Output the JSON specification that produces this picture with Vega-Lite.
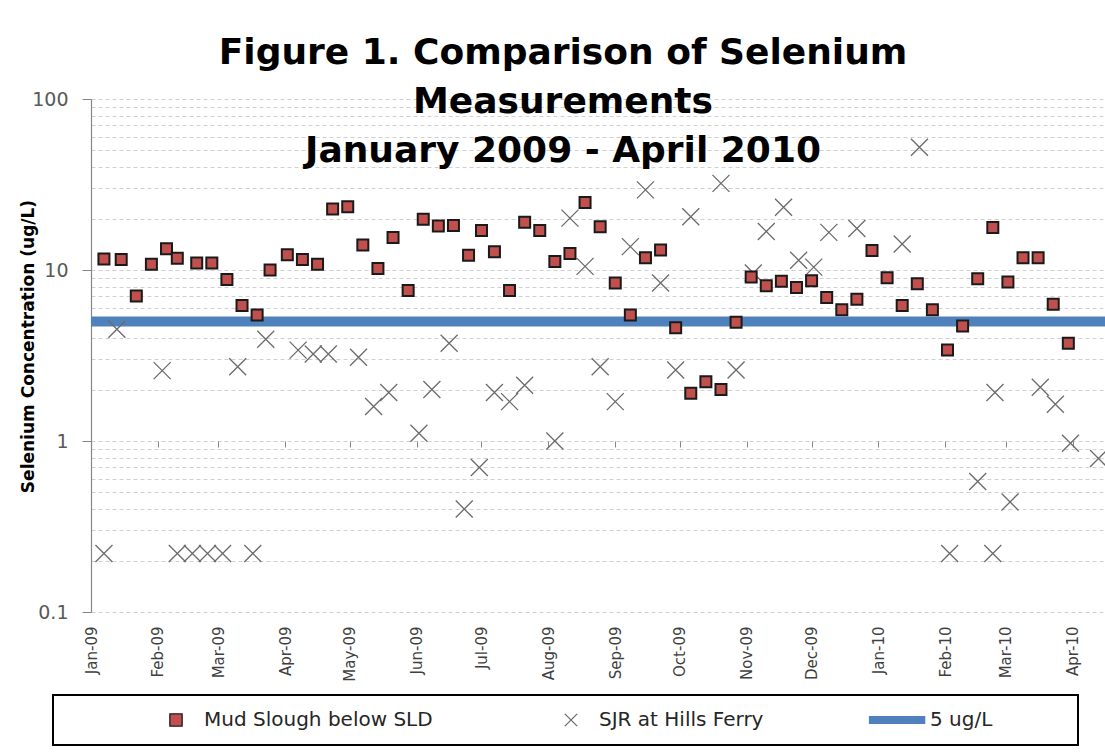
{
  "$schema": "https://vega.github.io/schema/vega-lite/v6.json",
  "width": 1014,
  "height": 513,
  "autosize": {"type": "none"},
  "padding": {"left": 91, "top": 99, "right": 0, "bottom": 141},
  "background": "white",
  "title": {
    "text": ["Figure 1. Comparison of Selenium", "Measurements", "January 2009 - April 2010"],
    "anchor": "middle",
    "frame": "group",
    "offset": -80,
    "dx": -35,
    "font": "DejaVu Sans",
    "fontSize": 36,
    "fontWeight": "bold",
    "lineHeight": 49,
    "color": "#000000"
  },
  "config": {
    "view": {"stroke": null},
    "axis": {"labelFont": "DejaVu Sans", "titleFont": "DejaVu Sans"},
    "legend": {
      "orient": "none",
      "legendX": -38,
      "legendY": 596,
      "direction": "horizontal",
      "columns": 3,
      "labelFont": "DejaVu Sans",
      "labelFontSize": 20,
      "labelColor": "#262626",
      "labelLimit": 400,
      "symbolSize": 150,
      "symbolStrokeWidth": 1.3,
      "symbolOffset": 98,
      "labelOffset": 18,
      "columnPadding": 30,
      "padding": 15,
      "titleOrient": "right",
      "titlePadding": 71,
      "titleFontSize": 20,
      "fillColor": "white",
      "strokeColor": "#000000",
      "strokeWidth": 2
    }
  },
  "datasets": {
    "sel": [
      {"date": "2009-01-07", "value": 11.6, "series": "Mud Slough below SLD"},
      {"date": "2009-01-15", "value": 11.5, "series": "Mud Slough below SLD"},
      {"date": "2009-01-22", "value": 7.05, "series": "Mud Slough below SLD"},
      {"date": "2009-01-29", "value": 10.8, "series": "Mud Slough below SLD"},
      {"date": "2009-02-05", "value": 13.3, "series": "Mud Slough below SLD"},
      {"date": "2009-02-10", "value": 11.7, "series": "Mud Slough below SLD"},
      {"date": "2009-02-19", "value": 11.0, "series": "Mud Slough below SLD"},
      {"date": "2009-02-26", "value": 11.0, "series": "Mud Slough below SLD"},
      {"date": "2009-03-05", "value": 8.8, "series": "Mud Slough below SLD"},
      {"date": "2009-03-12", "value": 6.2, "series": "Mud Slough below SLD"},
      {"date": "2009-03-19", "value": 5.45, "series": "Mud Slough below SLD"},
      {"date": "2009-03-25", "value": 10.0, "series": "Mud Slough below SLD"},
      {"date": "2009-04-02", "value": 12.3, "series": "Mud Slough below SLD"},
      {"date": "2009-04-09", "value": 11.5, "series": "Mud Slough below SLD"},
      {"date": "2009-04-16", "value": 10.8, "series": "Mud Slough below SLD"},
      {"date": "2009-04-23", "value": 22.7, "series": "Mud Slough below SLD"},
      {"date": "2009-04-30", "value": 23.4, "series": "Mud Slough below SLD"},
      {"date": "2009-05-07", "value": 14.0, "series": "Mud Slough below SLD"},
      {"date": "2009-05-14", "value": 10.2, "series": "Mud Slough below SLD"},
      {"date": "2009-05-21", "value": 15.5, "series": "Mud Slough below SLD"},
      {"date": "2009-05-28", "value": 7.6, "series": "Mud Slough below SLD"},
      {"date": "2009-06-04", "value": 19.8, "series": "Mud Slough below SLD"},
      {"date": "2009-06-11", "value": 18.1, "series": "Mud Slough below SLD"},
      {"date": "2009-06-18", "value": 18.2, "series": "Mud Slough below SLD"},
      {"date": "2009-06-25", "value": 12.2, "series": "Mud Slough below SLD"},
      {"date": "2009-07-01", "value": 17.0, "series": "Mud Slough below SLD"},
      {"date": "2009-07-07", "value": 12.8, "series": "Mud Slough below SLD"},
      {"date": "2009-07-14", "value": 7.6, "series": "Mud Slough below SLD"},
      {"date": "2009-07-21", "value": 19.0, "series": "Mud Slough below SLD"},
      {"date": "2009-07-28", "value": 17.0, "series": "Mud Slough below SLD"},
      {"date": "2009-08-04", "value": 11.2, "series": "Mud Slough below SLD"},
      {"date": "2009-08-11", "value": 12.5, "series": "Mud Slough below SLD"},
      {"date": "2009-08-18", "value": 24.8, "series": "Mud Slough below SLD"},
      {"date": "2009-08-25", "value": 17.9, "series": "Mud Slough below SLD"},
      {"date": "2009-09-01", "value": 8.4, "series": "Mud Slough below SLD"},
      {"date": "2009-09-08", "value": 5.45, "series": "Mud Slough below SLD"},
      {"date": "2009-09-15", "value": 11.8, "series": "Mud Slough below SLD"},
      {"date": "2009-09-22", "value": 13.1, "series": "Mud Slough below SLD"},
      {"date": "2009-09-29", "value": 4.6, "series": "Mud Slough below SLD"},
      {"date": "2009-10-06", "value": 1.9, "series": "Mud Slough below SLD"},
      {"date": "2009-10-13", "value": 2.22, "series": "Mud Slough below SLD"},
      {"date": "2009-10-20", "value": 2.0, "series": "Mud Slough below SLD"},
      {"date": "2009-10-27", "value": 4.95, "series": "Mud Slough below SLD"},
      {"date": "2009-11-03", "value": 9.1, "series": "Mud Slough below SLD"},
      {"date": "2009-11-10", "value": 8.1, "series": "Mud Slough below SLD"},
      {"date": "2009-11-17", "value": 8.6, "series": "Mud Slough below SLD"},
      {"date": "2009-11-24", "value": 7.9, "series": "Mud Slough below SLD"},
      {"date": "2009-12-01", "value": 8.65, "series": "Mud Slough below SLD"},
      {"date": "2009-12-08", "value": 6.9, "series": "Mud Slough below SLD"},
      {"date": "2009-12-15", "value": 5.85, "series": "Mud Slough below SLD"},
      {"date": "2009-12-22", "value": 6.75, "series": "Mud Slough below SLD"},
      {"date": "2009-12-29", "value": 13.0, "series": "Mud Slough below SLD"},
      {"date": "2010-01-05", "value": 9.0, "series": "Mud Slough below SLD"},
      {"date": "2010-01-12", "value": 6.2, "series": "Mud Slough below SLD"},
      {"date": "2010-01-19", "value": 8.3, "series": "Mud Slough below SLD"},
      {"date": "2010-01-26", "value": 5.85, "series": "Mud Slough below SLD"},
      {"date": "2010-02-02", "value": 3.4, "series": "Mud Slough below SLD"},
      {"date": "2010-02-09", "value": 4.7, "series": "Mud Slough below SLD"},
      {"date": "2010-02-16", "value": 8.9, "series": "Mud Slough below SLD"},
      {"date": "2010-02-23", "value": 17.7, "series": "Mud Slough below SLD"},
      {"date": "2010-03-02", "value": 8.5, "series": "Mud Slough below SLD"},
      {"date": "2010-03-09", "value": 11.8, "series": "Mud Slough below SLD"},
      {"date": "2010-03-16", "value": 11.8, "series": "Mud Slough below SLD"},
      {"date": "2010-03-23", "value": 6.3, "series": "Mud Slough below SLD"},
      {"date": "2010-03-30", "value": 3.73, "series": "Mud Slough below SLD"},
      {"date": "2009-01-07", "value": 0.22, "series": "SJR at Hills Ferry"},
      {"date": "2009-01-13", "value": 4.5, "series": "SJR at Hills Ferry"},
      {"date": "2009-02-03", "value": 2.58, "series": "SJR at Hills Ferry"},
      {"date": "2009-02-10", "value": 0.22, "series": "SJR at Hills Ferry"},
      {"date": "2009-02-17", "value": 0.22, "series": "SJR at Hills Ferry"},
      {"date": "2009-02-24", "value": 0.22, "series": "SJR at Hills Ferry"},
      {"date": "2009-03-03", "value": 0.22, "series": "SJR at Hills Ferry"},
      {"date": "2009-03-10", "value": 2.72, "series": "SJR at Hills Ferry"},
      {"date": "2009-03-17", "value": 0.22, "series": "SJR at Hills Ferry"},
      {"date": "2009-03-23", "value": 3.94, "series": "SJR at Hills Ferry"},
      {"date": "2009-04-07", "value": 3.4, "series": "SJR at Hills Ferry"},
      {"date": "2009-04-14", "value": 3.23, "series": "SJR at Hills Ferry"},
      {"date": "2009-04-21", "value": 3.23, "series": "SJR at Hills Ferry"},
      {"date": "2009-05-05", "value": 3.09, "series": "SJR at Hills Ferry"},
      {"date": "2009-05-12", "value": 1.59, "series": "SJR at Hills Ferry"},
      {"date": "2009-05-19", "value": 1.92, "series": "SJR at Hills Ferry"},
      {"date": "2009-06-02", "value": 1.11, "series": "SJR at Hills Ferry"},
      {"date": "2009-06-08", "value": 2.0, "series": "SJR at Hills Ferry"},
      {"date": "2009-06-16", "value": 3.73, "series": "SJR at Hills Ferry"},
      {"date": "2009-06-23", "value": 0.4, "series": "SJR at Hills Ferry"},
      {"date": "2009-06-30", "value": 0.7, "series": "SJR at Hills Ferry"},
      {"date": "2009-07-07", "value": 1.92, "series": "SJR at Hills Ferry"},
      {"date": "2009-07-14", "value": 1.7, "series": "SJR at Hills Ferry"},
      {"date": "2009-07-21", "value": 2.12, "series": "SJR at Hills Ferry"},
      {"date": "2009-08-04", "value": 1.0, "series": "SJR at Hills Ferry"},
      {"date": "2009-08-11", "value": 20.1, "series": "SJR at Hills Ferry"},
      {"date": "2009-08-18", "value": 10.5, "series": "SJR at Hills Ferry"},
      {"date": "2009-08-25", "value": 2.72, "series": "SJR at Hills Ferry"},
      {"date": "2009-09-01", "value": 1.7, "series": "SJR at Hills Ferry"},
      {"date": "2009-09-08", "value": 13.7, "series": "SJR at Hills Ferry"},
      {"date": "2009-09-15", "value": 29.4, "series": "SJR at Hills Ferry"},
      {"date": "2009-09-22", "value": 8.4, "series": "SJR at Hills Ferry"},
      {"date": "2009-09-29", "value": 2.6, "series": "SJR at Hills Ferry"},
      {"date": "2009-10-06", "value": 20.5, "series": "SJR at Hills Ferry"},
      {"date": "2009-10-20", "value": 32.1, "series": "SJR at Hills Ferry"},
      {"date": "2009-10-27", "value": 2.6, "series": "SJR at Hills Ferry"},
      {"date": "2009-11-04", "value": 9.6, "series": "SJR at Hills Ferry"},
      {"date": "2009-11-10", "value": 16.8, "series": "SJR at Hills Ferry"},
      {"date": "2009-11-18", "value": 23.3, "series": "SJR at Hills Ferry"},
      {"date": "2009-11-25", "value": 11.4, "series": "SJR at Hills Ferry"},
      {"date": "2009-12-02", "value": 10.4, "series": "SJR at Hills Ferry"},
      {"date": "2009-12-09", "value": 16.6, "series": "SJR at Hills Ferry"},
      {"date": "2009-12-22", "value": 17.5, "series": "SJR at Hills Ferry"},
      {"date": "2010-01-12", "value": 14.2, "series": "SJR at Hills Ferry"},
      {"date": "2010-01-20", "value": 52.2, "series": "SJR at Hills Ferry"},
      {"date": "2010-02-03", "value": 0.22, "series": "SJR at Hills Ferry"},
      {"date": "2010-02-16", "value": 0.58, "series": "SJR at Hills Ferry"},
      {"date": "2010-02-23", "value": 0.22, "series": "SJR at Hills Ferry"},
      {"date": "2010-02-24", "value": 1.92, "series": "SJR at Hills Ferry"},
      {"date": "2010-03-03", "value": 0.44, "series": "SJR at Hills Ferry"},
      {"date": "2010-03-17", "value": 2.06, "series": "SJR at Hills Ferry"},
      {"date": "2010-03-24", "value": 1.64, "series": "SJR at Hills Ferry"},
      {"date": "2010-03-31", "value": 0.97, "series": "SJR at Hills Ferry"},
      {"date": "2010-04-13", "value": 0.79, "series": "SJR at Hills Ferry"}
    ],
    "limit": [
      {"value": 5, "series": "5 ug/L"}
    ]
  },
  "encoding": {
    "y": {
      "field": "value",
      "type": "quantitative",
      "scale": {"type": "log", "domain": [0.1, 100], "nice": false},
      "axis": {
        "title": "Selenium Concentration (ug/L)",
        "values": [0.1, 0.2, 0.3, 0.4, 0.5, 0.6, 0.7, 0.8, 0.9, 1, 2, 3, 4, 5, 6, 7, 8, 9, 10, 20, 30, 40, 50, 60, 70, 80, 90, 100],
        "labelExpr": "datum.value === 100 ? '100' : datum.value === 10 ? '10' : datum.value === 1 ? '1' : datum.value === 0.1 ? '0.1' : ''",
        "labelOverlap": false,
        "labelFontSize": 19,
        "labelColor": "#595959",
        "labelPadding": 14,
        "tickSize": 9,
        "tickColor": "#868686",
        "tickOpacity": {"condition": {"test": "datum.value === 100 || datum.value === 10 || datum.value === 1 || datum.value === 0.1", "value": 1}, "value": 0},
        "domainColor": "#868686",
        "domainWidth": 1.2,
        "grid": true,
        "gridColor": "#d0d0d0",
        "gridDash": [4, 3],
        "gridWidth": 1,
        "titleFontSize": 17,
        "titleFontWeight": "bold",
        "titleColor": "#000000",
        "titleX": -58,
        "titleY": 247,
        "titleBaseline": "alphabetic"
      }
    }
  },
  "layer": [
    {
      "data": {"name": "limit"},
      "mark": {"type": "rule", "color": "#4F81BD", "strokeWidth": 10},
      "encoding": {}
    },
    {
      "data": {"name": "sel"},
      "transform": [{"filter": "datum.series === 'SJR at Hills Ferry'"}],
      "mark": {"type": "point", "filled": true, "size": 289, "strokeWidth": 1.3, "opacity": 1},
      "encoding": {
        "x": {
          "field": "date",
          "type": "temporal",
          "scale": {"type": "utc", "domain": [{"year": 2009, "month": 1, "date": 1, "utc": true}, {"year": 2010, "month": 4, "date": 16, "utc": true}]},
          "axis": {
            "orient": "bottom",
            "offset": -171,
            "values": [
              {"year": 2009, "month": 1, "date": 1, "utc": true}, {"year": 2009, "month": 2, "date": 1, "utc": true},
              {"year": 2009, "month": 3, "date": 1, "utc": true}, {"year": 2009, "month": 4, "date": 1, "utc": true},
              {"year": 2009, "month": 5, "date": 1, "utc": true}, {"year": 2009, "month": 6, "date": 1, "utc": true},
              {"year": 2009, "month": 7, "date": 1, "utc": true}, {"year": 2009, "month": 8, "date": 1, "utc": true},
              {"year": 2009, "month": 9, "date": 1, "utc": true}, {"year": 2009, "month": 10, "date": 1, "utc": true},
              {"year": 2009, "month": 11, "date": 1, "utc": true}, {"year": 2009, "month": 12, "date": 1, "utc": true},
              {"year": 2010, "month": 1, "date": 1, "utc": true}, {"year": 2010, "month": 2, "date": 1, "utc": true},
              {"year": 2010, "month": 3, "date": 1, "utc": true}, {"year": 2010, "month": 4, "date": 1, "utc": true}
            ],
            "labels": false,
            "ticks": true,
            "tickSize": 6,
            "tickColor": "#868686",
            "domain": false,
            "grid": false,
            "title": null
          }
        },
        "shape": {
          "field": "series", "type": "nominal",
          "scale": {"domain": ["Mud Slough below SLD", "SJR at Hills Ferry", "5 ug/L"], "range": ["square", "M-1,-1L1,1M-1,1L1,-1", "M-5.3,-0.55L3.7,-0.55L3.7,0.55L-5.3,0.55Z"]},
          "legend": {"title": " ", "orient": "none", "legendX": -38, "legendY": 596, "direction": "horizontal", "columns": 3}
        },
        "fill": {
          "field": "series", "type": "nominal",
          "scale": {"domain": ["Mud Slough below SLD", "SJR at Hills Ferry", "5 ug/L"], "range": ["#C0504D", "transparent", "#4F81BD"]},
          "legend": {"title": " ", "orient": "none", "legendX": -38, "legendY": 596, "direction": "horizontal", "columns": 3}
        },
        "stroke": {
          "field": "series", "type": "nominal",
          "scale": {"domain": ["Mud Slough below SLD", "SJR at Hills Ferry", "5 ug/L"], "range": ["#1a1a1a", "#6b6b6b", "#4F81BD"]},
          "legend": {"title": " ", "orient": "none", "legendX": -38, "legendY": 596, "direction": "horizontal", "columns": 3}
        }
      }
    },
    {
      "data": {"name": "sel"},
      "transform": [{"filter": "datum.series === 'Mud Slough below SLD'"}],
      "mark": {"type": "point", "filled": true, "size": 121, "strokeWidth": 2, "opacity": 1},
      "encoding": {
        "x": {
          "field": "date",
          "type": "temporal",
          "scale": {"type": "utc", "domain": [{"year": 2009, "month": 1, "date": 1, "utc": true}, {"year": 2010, "month": 4, "date": 16, "utc": true}]},
          "axis": {
            "orient": "bottom",
            "values": [
              {"year": 2009, "month": 1, "date": 1, "utc": true}, {"year": 2009, "month": 2, "date": 1, "utc": true},
              {"year": 2009, "month": 3, "date": 1, "utc": true}, {"year": 2009, "month": 4, "date": 1, "utc": true},
              {"year": 2009, "month": 5, "date": 1, "utc": true}, {"year": 2009, "month": 6, "date": 1, "utc": true},
              {"year": 2009, "month": 7, "date": 1, "utc": true}, {"year": 2009, "month": 8, "date": 1, "utc": true},
              {"year": 2009, "month": 9, "date": 1, "utc": true}, {"year": 2009, "month": 10, "date": 1, "utc": true},
              {"year": 2009, "month": 11, "date": 1, "utc": true}, {"year": 2009, "month": 12, "date": 1, "utc": true},
              {"year": 2010, "month": 1, "date": 1, "utc": true}, {"year": 2010, "month": 2, "date": 1, "utc": true},
              {"year": 2010, "month": 3, "date": 1, "utc": true}, {"year": 2010, "month": 4, "date": 1, "utc": true}
            ],
            "format": "%b-%y",
            "labelAngle": -90,
            "labelFlush": false,
            "labelOverlap": false,
            "labelPadding": 14,
            "labelFontSize": 15,
            "labelColor": "#404040",
            "ticks": false,
            "tickSize": 0,
            "domain": false,
            "grid": false,
            "title": null
          }
        },
        "shape": {
          "field": "series", "type": "nominal",
          "scale": {"domain": ["Mud Slough below SLD", "SJR at Hills Ferry", "5 ug/L"], "range": ["square", "M-1,-1L1,1M-1,1L1,-1", "M-5.3,-0.55L3.7,-0.55L3.7,0.55L-5.3,0.55Z"]},
          "legend": {"title": " ", "orient": "none", "legendX": -38, "legendY": 596, "direction": "horizontal", "columns": 3}
        },
        "fill": {
          "field": "series", "type": "nominal",
          "scale": {"domain": ["Mud Slough below SLD", "SJR at Hills Ferry", "5 ug/L"], "range": ["#C0504D", "transparent", "#4F81BD"]},
          "legend": {"title": " ", "orient": "none", "legendX": -38, "legendY": 596, "direction": "horizontal", "columns": 3}
        },
        "stroke": {
          "field": "series", "type": "nominal",
          "scale": {"domain": ["Mud Slough below SLD", "SJR at Hills Ferry", "5 ug/L"], "range": ["#1a1a1a", "#6b6b6b", "#4F81BD"]},
          "legend": {"title": " ", "orient": "none", "legendX": -38, "legendY": 596, "direction": "horizontal", "columns": 3}
        }
      }
    }
  ],
  "resolve": {"axis": {"x": "independent"}}
}
